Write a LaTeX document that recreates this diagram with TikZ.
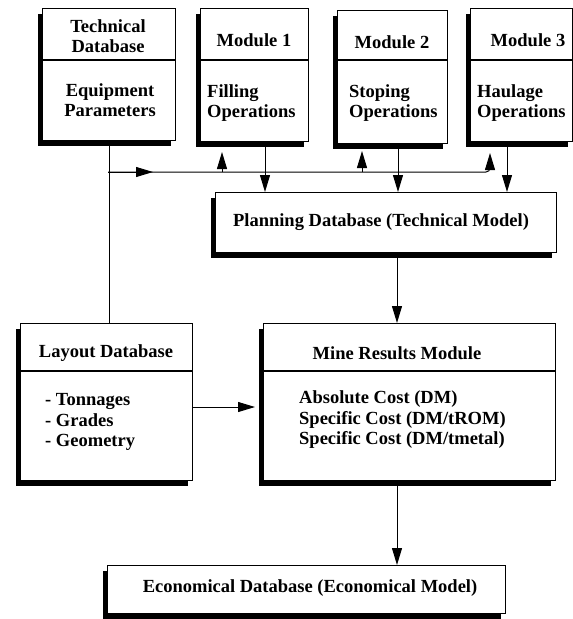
\documentclass[tikz,border=0pt]{standalone}
\usepackage{fontspec}
\setmainfont{Liberation Serif}
\usetikzlibrary{shadows,arrows.meta}
\begin{document}
\begin{tikzpicture}[x=1pt,y=-1pt,
  box/.style={draw, fill=white, line width=1.1pt, rectangle, inner sep=0pt, anchor=north west,
    general shadow={fill=black, shadow xshift=-5pt, shadow yshift=-5pt}},
  txt/.style={font=\fontsize{18.5}{20.5}\selectfont\bfseries, inner sep=0pt, align=center},
  ltxt/.style={txt, align=left, anchor=west},
  ln/.style={line width=1pt},
  arr/.style={line width=1pt, -{Triangle[length=17pt,width=10pt]}}]
\useasboundingbox (0,0) rectangle (573,619);

% boxes
\node[box, minimum width=133pt, minimum height=132pt] (tdb) at (42,8) {};
\node[box, minimum width=108pt, minimum height=133pt] (m1) at (200,8) {};
\node[box, minimum width=110pt, minimum height=133pt] (m2) at (337,10) {};
\node[box, minimum width=102pt, minimum height=133pt] (m3) at (470,8) {};
\node[box, minimum width=341pt, minimum height=60pt] (pl) at (215,192) {};
\node[box, minimum width=172pt, minimum height=157pt] (ld) at (20,323) {};
\node[box, minimum width=292pt, minimum height=157pt] (mr) at (263,323) {};
\node[box, minimum width=398pt, minimum height=48pt] (eco) at (107,565) {};

% dividers
\draw[line width=1.1pt] (42,60) -- (175,60);
\draw[line width=1.1pt] (200,60) -- (308,60);
\draw[line width=1.1pt] (337,60) -- (447,60);
\draw[line width=1.1pt] (470,60) -- (572,60);
\draw[line width=1.1pt] (20,371) -- (192,371);
\draw[line width=1.1pt] (263,371) -- (555,371);

% texts
\node[txt] (tdbh) at (108,36) {Technical\\Database};
\node[txt] (tdbb) at (110,100) {Equipment\\Parameters};
\node[txt] (m1h) at (254,40) {Module 1};
\node[ltxt] (m1b) at (207,103) {Filling\\Operations};
\node[txt] (m2h) at (392,42) {Module 2};
\node[ltxt] (m2b) at (349,103) {Stoping\\Operations};
\node[txt] (m3h) at (528,40) {Module 3};
\node[ltxt] (m3b) at (477,103) {Haulage\\Operations};
\node[txt] (plt) at (381,222) {Planning Database (Technical Model)};
\node[txt] (ldh) at (106,353) {Layout Database};
\node[ltxt] (ldb) at (45,422) {- Tonnages\\- Grades\\- Geometry};
\node[txt] (mrh) at (397,353) {Mine Results Module};
\node[ltxt] (mrb) at (299,420) {Absolute Cost (DM)\\Specific Cost (DM/tROM)\\Specific Cost (DM/tmetal)};
\node[txt] (ecot) at (310,588) {Economical Database (Economical Model)};

% helper coordinates
\coordinate (fb) at (108,172);
\coordinate (u1) at (222,152);
\coordinate (u2) at (362,151);
\coordinate (u3) at (490,153);
\coordinate (d1) at (265,0);
\coordinate (d2) at (398,0);
\coordinate (d3) at (507,0);
\coordinate (ax) at (397,0);
\coordinate (ay) at (0,407);
\coordinate (lt) at (255,407);

% connectors
\draw[ln] (tdb.south) -- (tdb.south |- ld.north);
\draw[arr] (fb) -- (153,172);
\draw[arr, rounded corners=4pt] (fb) -- (u3 |- fb) -- (u3);
\draw[arr] (u1 |- fb) -- (u1);
\draw[arr] (u2 |- fb) -- (u2);
\draw[arr] (m1.south -| d1) -- (pl.north -| d1);
\draw[arr] (m2.south -| d2) -- (pl.north -| d2);
\draw[arr] (m3.south -| d3) -- (pl.north -| d3);
\draw[arr] (pl.south -| ax) -- (mr.north -| ax);
\draw[arr] (ld.east |- ay) -- (lt);
\draw[arr] (mr.south -| ax) -- (eco.north -| ax);
\end{tikzpicture}
\end{document}
